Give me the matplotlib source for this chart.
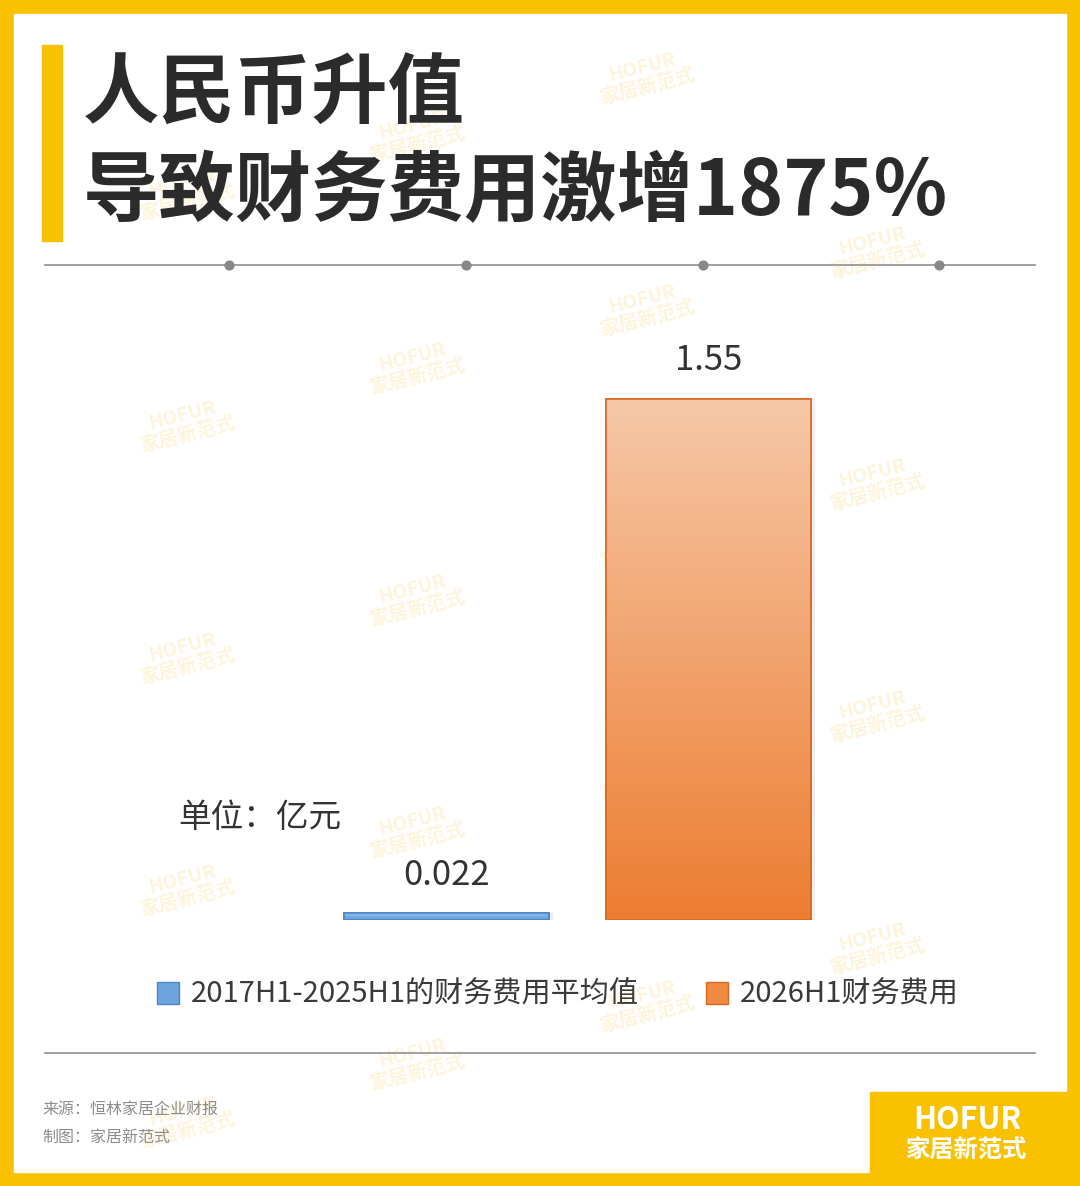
import numpy as np
import matplotlib.pyplot as plt
from matplotlib.patches import Rectangle
from matplotlib.colors import LinearSegmentedColormap

plt.rcParams['font.family'] = ['Noto Sans CJK SC', 'DejaVu Sans']

# data
categories = ['2017H1-2025H1的财务费用平均值', '2026H1财务费用']
values = [0.022, 1.55]
value_labels = ['0.022', '1.55']
title_lines = ['人民币升值', '导致财务费用激增1875%']
unit_text = '单位：亿元'
source_lines = ['来源：恒林家居企业财报', '制图：家居新范式']

W, H = 1080, 1186
YELLOW = '#F9C100'
TEXT = '#333333'

fig = plt.figure(figsize=(W / 100, H / 100), dpi=100)

# background layer in pixel coordinates
bg = fig.add_axes([0, 0, 1, 1])
bg.set_xlim(0, W)
bg.set_ylim(H, 0)
bg.axis('off')
bg.add_patch(Rectangle((0, 0), W, H, color=YELLOW, zorder=0))
bg.add_patch(Rectangle((14, 14), 1052, 1158, color='white', zorder=1))
bg.add_patch(Rectangle((870, 1092), 210, 94, color=YELLOW, zorder=2))

# faint watermarks
for col in range(-1, 5):
    for row in range(-1, 7):
        wx = 185 + col * 230
        wy = 425 - col * 58 + row * 232
        if 100 < wx < 950 and 45 < wy < 1150:
            bg.text(wx, wy, 'HOFUR\n家居新范式', color='#FDF4DC', fontsize=14,
                    fontweight='bold', rotation=14, ha='center', va='center',
                    linespacing=1.0, zorder=1.5)

# title
bg.add_patch(Rectangle((42, 45), 20, 196, color=YELLOW, zorder=3))
bg.text(83, 95, title_lines[0], fontsize=55, fontweight='bold', color='#2B2B2B',
        va='center', ha='left', zorder=4)
bg.text(83, 192, title_lines[1], fontsize=55, fontweight='bold', color='#2B2B2B',
        va='center', ha='left', zorder=4)

# separators
bg.plot([45, 1035], [265, 265], color='#999999', lw=1.3, zorder=3)
bg.scatter([229, 466, 703, 939], [265] * 4, s=40, color='#888888', zorder=4)
bg.plot([45, 1035], [1053, 1053], color='#999999', lw=1.3, zorder=3)

# source text
bg.text(42, 1109, source_lines[0], fontsize=11.5, color='#8C8C8C', va='center', zorder=4)
bg.text(42, 1137, source_lines[1], fontsize=11.5, color='#8C8C8C', va='center', zorder=4)

# logo
bg.text(967, 1120, 'HOFUR', fontsize=22, fontweight='bold', color='white',
        ha='center', va='center', zorder=4)
bg.text(967, 1150, '家居新范式', fontsize=17.5, fontweight='bold', color='white',
        ha='center', va='center', zorder=4)

bg.text(178, 818, unit_text, fontsize=23.5, color=TEXT, va='center', ha='left', zorder=4)

# chart axes: x -0.5..1.5 over 524 px, y 0..1.8 over 605 px
ax_left, ax_bottom = 315.5, 920
ax_w, ax_h = 524, 605
ax = fig.add_axes([ax_left / W, 1 - ax_bottom / H, ax_w / W, ax_h / H])
ax.patch.set_alpha(0)
ax.set_xlim(-0.5, 1.5)
ax.set_ylim(0, 1.8)
ax.axis('off')

x = np.arange(len(values))
face = ['#7EB3E6', '#EE8035']
edges = ['#4A86C8', '#D9691F']
tops = [('#9CC5EE', '#5B9BD5'), ('#F6C8A8', '#ED7D31')]
bars = ax.bar(x, values, width=0.78, color=face, edgecolor=edges, linewidth=1.2, zorder=3)

grad = np.linspace(0, 1, 256).reshape(-1, 1)
for bar, (c_top, c_bot) in zip(bars, tops):
    cmap = LinearSegmentedColormap.from_list('g', [c_bot, c_top])
    bx, by = bar.get_x(), bar.get_y()
    bw, bh = bar.get_width(), bar.get_height()
    im = ax.imshow(grad, cmap=cmap, aspect='auto', origin='lower',
                   extent=[bx, bx + bw, by, by + bh], zorder=3.5)
    im.set_clip_path(bar)
    ax.add_patch(Rectangle((bx, by), bw, bh, fill=False, edgecolor=bar.get_edgecolor(),
                           linewidth=1.2, zorder=4))
    # subtle shadow
    ax.add_patch(Rectangle((bx + 0.012, by), bw, bh, color='#000000', alpha=0.05,
                           zorder=2.5))

label_offsets = [0.11, 0.115]
for xi, v, lab, off in zip(x, values, value_labels, label_offsets):
    ax.text(xi, v + off, lab, ha='center', va='center', fontsize=25, color=TEXT)

ax.set_ylim(0, 1.8)
ax.set_xlim(-0.5, 1.5)

handles = [Rectangle((0, 0), 1, 1, facecolor=f, edgecolor=e, linewidth=1)
           for f, e in zip(['#6FA5DC', '#EF8A45'], edges)]
fig.legend(handles, categories, loc='center', ncol=2, frameon=False,
           bbox_to_anchor=(558 / W, 1 - 995 / H), bbox_transform=fig.transFigure,
           fontsize=21, handlelength=0.75, handleheight=0.75, handletextpad=0.4,
           columnspacing=2.3, labelcolor='#3A3A3A')

fig.savefig('out.png', dpi=100)
